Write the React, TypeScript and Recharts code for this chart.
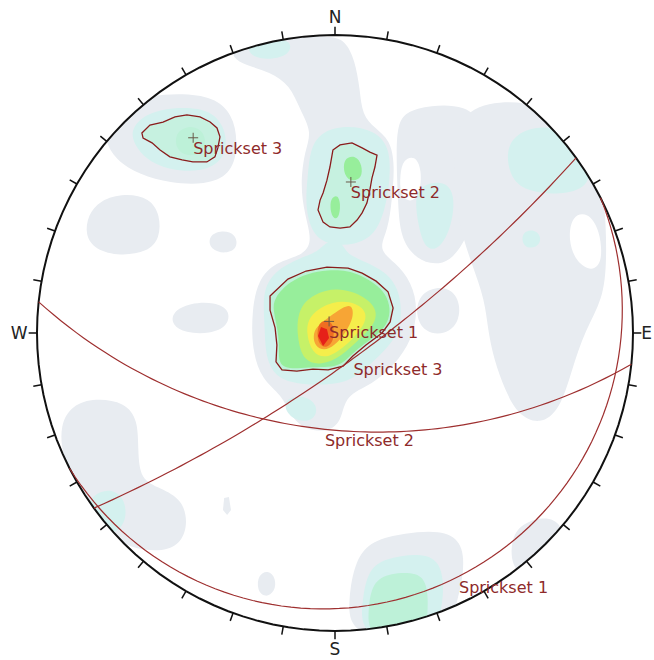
import React from 'react';
import { ScatterChart, Scatter, XAxis, YAxis } from 'recharts';

type Pt = [number, number];

// Stereonet (equal angle, lower hemisphere); net radius = 100 units
const NET_R = 100;
const DOMAIN: [number, number] = [-110, 110];

// Fracture sets: dip direction / dip in degrees
const setNames = ['Sprickset 1', 'Sprickset 2', 'Sprickset 3'];
const dipDirections = [153, 186, 144];
const dips = [5, 54, 78];

const compassLetters = ['N', 'E', 'S', 'W'];
const compassBearings = [0, 90, 180, 270];
const compassRadii = [106, 104.6, 106, 106];
const tickBearings = [0, 10, 20, 30, 40, 50, 60, 70, 80, 90, 100, 110, 120, 130, 140, 150, 160, 170,
  180, 190, 200, 210, 220, 230, 240, 250, 260, 270, 280, 290, 300, 310, 320, 330, 340, 350];

// Pole density contour colours (low -> high)
const levelColors = ['#e8ecf1', '#d4f1ef', '#bdf1d8', '#97ee9b', '#c6f168', '#f5ee4b', '#f7a535', '#ef6e22', '#e62119'];
const setInteriorColor = '#c6f1e0';
const outlineColor = '#8a1c1c';
const circleColor = '#9e2f2f';
const labelColor = '#8e2a2a';

// ---- contour regions, net coordinates (x east, y north) ----
const centralLow: Pt[] = [[-34.6, 95.6], [-28.5, 98.3], [-15.1, 99.3], [-1.7, 99.7], [3.4, 98.3], [6.7, 91.6], [8.4, 81.5], [9.1, 73.2], [13.4, 68.8], [18.5, 64.8], [20.1, 56.4], [19.1, 44.6], [17.8, 34.6], [14.4, 27.9], [20.1, 23.8], [25.8, 17.1], [27.9, 7.7], [25.8, -2.3], [20.1, -10.7], [12.4, -17.4], [3.4, -20.8], [2.3, -29.2], [-1.7, -33.2], [-10.1, -32.6], [-15.1, -27.5], [-17.8, -20.8], [-24.5, -15.8], [-27.9, -5.7], [-27.9, 7.7], [-25.8, 17.8], [-20.1, 23.8], [-10.1, 26.2], [-7.7, 31.2], [-10.1, 39.6], [-11.7, 49.7], [-10.1, 61.4], [-7.7, 67.4], [-11.7, 74.8], [-15.1, 83.2], [-21.8, 87.6], [-30.2, 89.9], [-34.2, 92.3]];
const eastCentralLow: Pt[] = [[23.5, 74.2], [31.9, 76.5], [44.0, 76.5], [50.0, 70.0], [50.0, 58.1], [49.0, 44.6], [44.0, 31.2], [38.6, 23.8], [31.9, 22.8], [25.8, 26.2], [21.8, 32.9], [21.1, 44.6], [20.5, 61.4], [21.1, 69.8]];
const eastLow: Pt[] = [[41.0, 74.2], [55.4, 78.2], [68.8, 76.8], [79.5, 69.8], [87.6, 58.1], [90.6, 44.6], [91.3, 24.5], [89.9, 11.1], [83.9, 1.0], [79.5, -12.4], [75.5, -25.8], [68.8, -30.9], [61.4, -27.5], [57.0, -19.1], [53.4, -9.1], [51.3, 1.0], [50.3, 11.1], [46.0, 22.8], [41.0, 37.9], [39.5, 54.7]];
const eastMidLow: Pt[] = [[28.5, 13.8], [36.9, 16.1], [41.9, 11.7], [41.9, 3.7], [36.9, -0.7], [30.2, 0], [26.8, 6.0]];
const westLowA: Pt[] = [[-82.9, 39.6], [-78.9, 44.6], [-70.5, 47.0], [-62.1, 45.3], [-58.7, 39.6], [-58.7, 31.9], [-62.8, 27.2], [-72.1, 25.8], [-80.5, 27.9], [-83.9, 32.9]];
const westLowB: Pt[] = [[-42.6, 32.6], [-37.9, 34.6], [-33.2, 33.2], [-32.6, 28.5], [-36.6, 26.5], [-41.9, 27.9]];
const westLowC: Pt[] = [[-54.7, 7.0], [-48.7, 10.1], [-40.3, 10.4], [-35.2, 7.7], [-35.9, 2.3], [-41.9, -0.3], [-50.3, 0], [-54.7, 2.7]];
const southWestLow: Pt[] = [[-88.3, -24.2], [-80.5, -21.8], [-70.5, -23.2], [-66.1, -29.2], [-66.1, -39.3], [-65.4, -49.3], [-58.7, -52.0], [-51.0, -56.0], [-49.3, -64.4], [-52.0, -71.1], [-58.7, -73.5], [-68.8, -72.1], [-75.5, -67.8], [-82.2, -62.8], [-87.2, -52.7], [-91.6, -40.9], [-92.3, -30.9]];
const speckA: Pt[] = [[-37.2, -55.4], [-35.6, -55.0], [-34.9, -59.4], [-36.2, -61.1], [-37.6, -59.4]];
const speckB: Pt[] = [[-25.8, -81.2], [-22.5, -79.5], [-19.8, -82.2], [-20.1, -86.9], [-23.5, -88.9], [-26.2, -86.2]];
const southEastLow: Pt[] = [[59.4, -66.1], [67.1, -62.1], [73.8, -62.1], [77.2, -66.8], [75.5, -74.5], [70.5, -80.2], [63.8, -82.2], [58.7, -77.9]];
const southLow: Pt[] = [[4.4, -89.6], [6.7, -76.2], [12.4, -69.5], [23.5, -67.1], [35.2, -66.1], [42.6, -69.5], [43.6, -79.5], [40.3, -93.0], [36.9, -103], [5.0, -103]];
const set3Low: Pt[] = [[-77.2, 69.8], [-72.1, 76.5], [-62.1, 79.9], [-48.7, 80.5], [-38.6, 78.2], [-33.6, 71.5], [-32.6, 61.4], [-35.2, 53.0], [-43.6, 49.7], [-55.4, 50.3], [-65.4, 53.0], [-73.8, 58.1], [-77.2, 64.8]];

const emptyPatchA: Pt[] = [[22.8, 58.1], [26.8, 59.7], [29.2, 54.7], [28.5, 46.3], [25.2, 43.6], [21.8, 46.3], [21.8, 53.0]];
const emptyPatchB: Pt[] = [[79.5, 39.6], [84.9, 40.6], [88.9, 34.6], [89.9, 23.8], [86.2, 20.5], [80.9, 23.8], [78.2, 31.2]];

const northMid: Pt[] = [[-29.9, 97.7], [-21.8, 99.0], [-14.4, 98.3], [-15.1, 93.3], [-21.8, 91.6], [-28.5, 92.6]];
const eastCentralMid: Pt[] = [[28.5, 49.7], [36.9, 51.3], [40.3, 46.3], [39.3, 36.2], [35.2, 27.9], [30.2, 27.9], [27.9, 36.2], [26.8, 44.6]];
const northEastMid: Pt[] = [[57.0, 63.1], [63.8, 68.8], [73.8, 69.5], [81.5, 64.8], [86.2, 56.4], [84.9, 48.7], [75.5, 46.3], [65.4, 47.3], [58.7, 51.3]];
const eastSpeckMid: Pt[] = [[62.4, 33.9], [67.1, 34.9], [69.5, 31.9], [67.8, 28.5], [63.1, 28.5]];
const southWestMid: Pt[] = [[-81.5, -54.4], [-75.5, -52.0], [-70.5, -55.4], [-69.8, -62.8], [-73.8, -67.8], [-79.5, -66.1], [-83.9, -59.4]];
const belowSet1Mid: Pt[] = [[-16.8, -21.8], [-10.1, -20.8], [-5.7, -24.2], [-6.7, -29.2], [-12.4, -29.9], [-16.8, -26.5]];
const southMid: Pt[] = [[9.1, -89.6], [11.1, -79.5], [16.8, -75.5], [28.5, -73.8], [35.2, -76.2], [36.9, -86.2], [34.6, -98.0], [31.9, -103], [8.4, -103]];
const southHigh: Pt[] = [[11.1, -93.0], [12.4, -83.6], [18.5, -80.5], [27.9, -80.2], [31.2, -84.6], [31.2, -94.6], [29.9, -103], [11.1, -103]];

const set3Mid: Pt[] = [[-69.5, 66.4], [-65.4, 72.5], [-57.0, 75.5], [-45.3, 75.8], [-38.6, 72.1], [-35.9, 64.8], [-37.9, 57.4], [-45.3, 54.0], [-55.4, 54.7], [-63.8, 58.1]];
const set3Core: Pt[] = [[-53.7, 67.1], [-49.7, 69.5], [-45.3, 68.8], [-43.0, 64.8], [-44.6, 60.4], [-49.3, 59.1], [-53.4, 61.4]];
const set3Window: Pt[] = [[-64.8, 67.1], [-62.1, 69.8], [-57.7, 70.8], [-53.7, 72.5], [-49.7, 73.2], [-45.3, 72.5], [-41.9, 70.8], [-39.6, 68.8], [-38.6, 65.8], [-39.3, 62.1], [-40.3, 59.1], [-43.0, 57.4], [-47.7, 57.4], [-51.3, 58.1], [-55.4, 59.1], [-58.7, 61.4], [-61.4, 63.8], [-64.4, 65.4]];

const set2Mid: Pt[] = [[-8.4, 61.4], [-5.0, 67.4], [3.4, 69.8], [13.4, 68.1], [18.5, 62.1], [18.5, 51.3], [16.8, 41.3], [13.4, 32.9], [6.7, 29.5], [-1.7, 29.5], [-7.7, 32.9], [-10.1, 43.0], [-9.1, 53.0]];
const set2Window: Pt[] = [[-0.7, 61.4], [1.7, 63.1], [5.7, 63.8], [9.1, 62.1], [11.7, 60.7], [14.1, 59.7], [13.4, 55.7], [12.4, 52.0], [11.7, 48.0], [10.7, 43.6], [9.1, 40.3], [7.4, 37.9], [5.0, 35.6], [1.7, 35.2], [-1.7, 35.6], [-4.0, 37.2], [-5.7, 41.3], [-5.0, 44.6], [-4.0, 47.0], [-2.7, 51.3], [-1.7, 55.7]];
const set2CoreA: Pt[] = [[2.7, 58.7], [7.0, 59.7], [9.1, 56.4], [9.1, 52.0], [5.7, 50.7], [3.0, 52.7]];
const set2CoreB: Pt[] = [[-1.3, 45.3], [1.0, 46.6], [2.0, 42.6], [1.0, 37.9], [-1.0, 38.9], [-1.7, 42.3]];

const set1Mid: Pt[] = [[-24.5, 13.8], [-20.1, 21.1], [-11.7, 25.2], [-5.7, 27.2], [-2.3, 31.2], [1.7, 31.2], [3.7, 27.2], [6.7, 25.2], [16.8, 21.1], [21.8, 14.4], [22.5, 4.4], [20.1, -2.3], [13.4, -9.1], [6.7, -15.1], [0, -17.4], [-11.7, -17.4], [-20.1, -15.1], [-23.5, -7.4], [-23.5, 2.7]];
const set1Window: Pt[] = [[-21.8, 12.4], [-15.8, 18.1], [-9.7, 20.8], [-2.7, 22.1], [4.4, 21.8], [9.1, 20.1], [13.8, 17.4], [17.8, 13.8], [19.5, 8.4], [18.5, 3.7], [15.8, 0], [10.4, -4.0], [6.0, -7.7], [2.7, -11.1], [-2.3, -12.4], [-7.4, -12.1], [-12.8, -12.8], [-17.8, -12.4], [-19.8, -9.7], [-19.5, -4.0], [-20.1, 1.7], [-21.8, 7.7]];
const set1Green: Pt[] = [[-20.5, 11.8], [-15.2, 17.3], [-9.2, 20.0], [-2.5, 21.2], [4.2, 21.0], [8.8, 19.3], [13.3, 16.7], [17.0, 13.3], [18.7, 8.2], [17.8, 3.7], [15.2, 0.2], [10.0, -3.5], [5.7, -7.0], [2.5, -10.4], [-2.3, -11.6], [-7.4, -11.4], [-12.6, -12.0], [-17.2, -11.7], [-19.0, -9.3], [-18.7, -4.0], [-19.3, 1.7], [-20.8, 7.7]];
const set1YellowGreen: Pt[] = [[-12.6, 9.7], [-3.1, 15.1], [5.8, 14.4], [13.5, 9.7], [14.3, 4.0], [8.5, -1.8], [2.0, -8.0], [-4.6, -10.8], [-10.5, -9.6], [-12.8, -1.8]];
const set1Yellow: Pt[] = [[-8.9, 6.1], [-0.8, 11.0], [7.4, 10.3], [11.2, 6.4], [8.9, 1.0], [2.6, -5.2], [-3.1, -8.7], [-7.7, -6.7], [-9.7, -0.2]];
const set1Orange: Pt[] = [[-6.4, 2.0], [-2.0, 5.4], [2.7, 8.7], [5.7, 9.7], [6.4, 5.4], [3.4, -0.3], [-0.3, -4.4], [-3.7, -6.0], [-6.7, -4.4], [-7.4, -1.0]];
const set1DarkOrange: Pt[] = [[-6.0, 3.0], [-3.0, 4.7], [-0.3, 3.0], [-0.3, -2.7], [-3.0, -5.4], [-6.0, -3.4]];
const set1Red: Pt[] = [[-4.7, 2.0], [-2.7, 1.3], [-2.0, -1.7], [-4.0, -4.4], [-5.7, -1.0]];

type Layer = { pts: Pt[]; color: string; smooth: boolean };
const L = (pts: Pt[], level: number, smooth = true): Layer => ({ pts, color: levelColors[level], smooth });
const contourLayers: Layer[] = [
  L(centralLow, 0), L(eastCentralLow, 0), L(eastLow, 0), L(eastMidLow, 0), L(westLowA, 0), L(westLowB, 0),
  L(westLowC, 0), L(southWestLow, 0), L(speckA, 0, false), L(speckB, 0), L(southEastLow, 0), L(southLow, 0), L(set3Low, 0),
  { pts: emptyPatchA, color: '#ffffff', smooth: true }, { pts: emptyPatchB, color: '#ffffff', smooth: true },
  L(northMid, 1), L(eastCentralMid, 1), L(northEastMid, 1), L(eastSpeckMid, 1), L(southWestMid, 1), L(belowSet1Mid, 1), L(southMid, 1),
  L(set3Mid, 1), L(set2Mid, 1), L(set1Mid, 1),
  L(southHigh, 2),
  { pts: set3Window, color: setInteriorColor, smooth: false },
  { pts: set2Window, color: setInteriorColor, smooth: false },
  { pts: set1Window, color: levelColors[2], smooth: false },
  L(set3Core, 2), L(set2CoreA, 3), L(set2CoreB, 3),
  L(set1Green, 3), L(set1YellowGreen, 4), L(set1Yellow, 5), L(set1Orange, 6), L(set1DarkOrange, 7), L(set1Red, 8, false),
];
const setWindows: Pt[][] = [set1Window, set2Window, set3Window];

// ---- projection helpers ----
const D2R = Math.PI / 180;
const project = (trend: number, plunge: number) => {
  const r = NET_R * Math.tan(((90 - plunge) / 2) * D2R);
  return { x: r * Math.sin(trend * D2R), y: r * Math.cos(trend * D2R) };
};
const polar = (bearing: number, r: number) => ({ x: r * Math.sin(bearing * D2R), y: r * Math.cos(bearing * D2R) });

const greatCircle = (dipDir: number, dip: number) => {
  const a = dipDir * D2R;
  const d = dip * D2R;
  const s = [Math.sin(a - Math.PI / 2), Math.cos(a - Math.PI / 2), 0];
  const v = [Math.sin(a) * Math.cos(d), Math.cos(a) * Math.cos(d), Math.sin(d)];
  const out: { x: number; y: number }[] = [];
  for (let k = 0; k <= 180; k += 2) {
    const t = k * D2R;
    const e = s[0] * Math.cos(t) + v[0] * Math.sin(t);
    const n = s[1] * Math.cos(t) + v[1] * Math.sin(t);
    const dn = s[2] * Math.cos(t) + v[2] * Math.sin(t);
    const plunge = Math.asin(Math.max(-1, Math.min(1, dn))) / D2R;
    const trend = Math.atan2(e, n) / D2R;
    out.push(project(trend, plunge));
  }
  return out;
};

const toData = (pts: Pt[]) => pts.map(([x, y]) => ({ x, y }));
const primitive = Array.from({ length: 121 }, (_, i) => polar(i * 3, NET_R));
// white surround outside the primitive circle (circle traced clockwise, frame anticlockwise)
const surround = [
  ...Array.from({ length: 121 }, (_, i) => polar(90 + i * 3, NET_R)),
  { x: DOMAIN[1], y: 0 }, { x: DOMAIN[1], y: DOMAIN[1] }, { x: DOMAIN[0], y: DOMAIN[1] },
  { x: DOMAIN[0], y: DOMAIN[0] }, { x: DOMAIN[1], y: DOMAIN[0] }, { x: DOMAIN[1], y: 0 },
];
const ticks = tickBearings.map((b) => [polar(b, NET_R), polar(b, NET_R + 2.8)]);

const poles = setNames.map((name, i) => ({ ...project(dipDirections[i] + 180, 90 - dips[i]), name }));
const circleLabels = setNames.map((name, i) => ({ ...project(dipDirections[i], dips[i]), name }));
const compassData = compassLetters.map((name, i) => ({ ...polar(compassBearings[i], compassRadii[i]), name }));

const FONT = 'DejaVu Sans, Verdana, sans-serif';
const Empty = () => <g />;
const Cross = (p: any) => (
  <path d={`M${p.cx - 5},${p.cy}h10M${p.cx},${p.cy - 5}v10`} stroke="#6a5a48" strokeWidth={1} fill="none" />
);
const SetLabel = (p: any) => (
  <text x={p.cx} y={p.cy + 11} fill={labelColor} fontSize={16} fontFamily={FONT} dominantBaseline="central">
    {p.payload.name}
  </text>
);
const CompassLabel = (p: any) => (
  <text x={p.cx} y={p.cy} fill="#222" fontSize={17} fontFamily={FONT} textAnchor="middle" dominantBaseline="central">
    {p.payload.name}
  </text>
);

export default function App() {
  return (
    <div style={{ position: 'absolute', left: 0, top: 0, width: 654, height: 660, overflow: 'hidden', background: '#fff' }}>
      <ScatterChart width={680} height={680} margin={{ top: 5.2, left: 7.2, right: 17.2, bottom: 19.2 }}>
        <XAxis type="number" dataKey="x" domain={DOMAIN} hide allowDataOverflow />
        <YAxis type="number" dataKey="y" domain={DOMAIN} hide allowDataOverflow />
        {contourLayers.map((c, i) => (
          <Scatter
            key={`c${i}`}
            data={toData(c.pts)}
            shape={Empty}
            line={{ fill: c.color, stroke: 'none' }}
            lineJointType={c.smooth ? 'basisClosed' : 'linearClosed'}
            isAnimationActive={false}
          />
        ))}
        <Scatter data={surround} shape={Empty} line={{ fill: '#ffffff', stroke: 'none', fillRule: 'evenodd' }} lineJointType="linearClosed" isAnimationActive={false} />
        <Scatter data={primitive} shape={Empty} line={{ fill: 'none', stroke: '#111', strokeWidth: 2 }} lineJointType="linearClosed" isAnimationActive={false} />
        {ticks.map((seg, i) => (
          <Scatter key={`t${i}`} data={seg} shape={Empty} line={{ fill: 'none', stroke: '#111', strokeWidth: 1.5 }} lineJointType="linear" isAnimationActive={false} />
        ))}
        {setWindows.map((w, i) => (
          <Scatter key={`w${i}`} data={toData(w)} shape={Empty} line={{ fill: 'none', stroke: outlineColor, strokeWidth: 1.3 }} lineJointType="linearClosed" isAnimationActive={false} />
        ))}
        {setNames.map((n, i) => (
          <Scatter key={`g${i}`} data={greatCircle(dipDirections[i], dips[i])} shape={Empty} line={{ fill: 'none', stroke: circleColor, strokeWidth: 1.2 }} lineJointType="linear" isAnimationActive={false} />
        ))}
        <Scatter data={poles} shape={Cross} isAnimationActive={false} />
        <Scatter data={poles} shape={SetLabel} isAnimationActive={false} />
        <Scatter data={circleLabels} shape={SetLabel} isAnimationActive={false} />
        <Scatter data={compassData} shape={CompassLabel} isAnimationActive={false} />
      </ScatterChart>
    </div>
  );
}
